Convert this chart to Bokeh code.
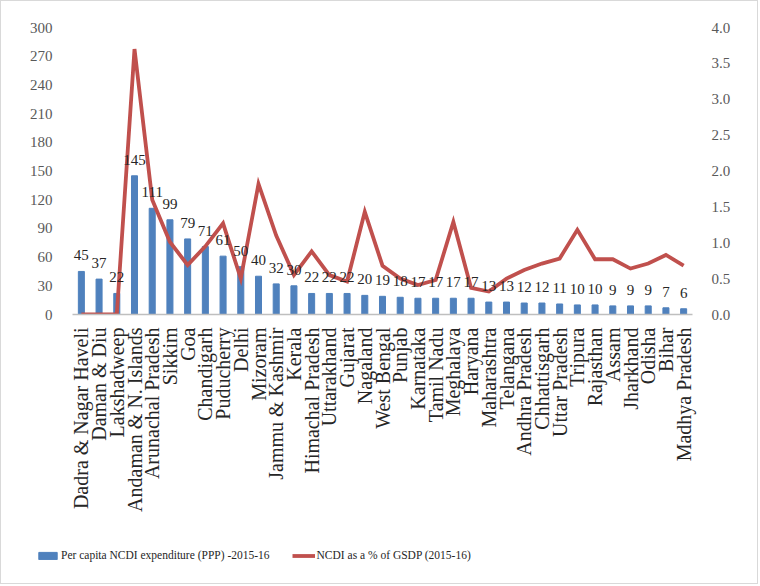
from bokeh.plotting import figure
from bokeh.layouts import column
from bokeh.models import (Range1d, LinearAxis, FixedTicker, ColumnDataSource,
                          Legend, LegendItem, NumeralTickFormatter)
from bokeh.embed import file_html
from bokeh.resources import INLINE
from bokeh.core.properties import value

states = ["Dadra & Nagar Haveli", "Daman & Diu", "Lakshadweep", "Andaman & N. Islands",
          "Arunachal Pradesh", "Sikkim", "Goa", "Chandigarh", "Puducherry", "Delhi",
          "Mizoram", "Jammu & Kashmir", "Kerala", "Himachal Pradesh", "Uttarakhand",
          "Gujarat", "Nagaland", "West Bengal", "Punjab", "Karnataka", "Tamil Nadu",
          "Meghalaya", "Haryana", "Maharashtra", "Telangana", "Andhra Pradesh",
          "Chhattisgarh", "Uttar Pradesh", "Tripura", "Rajasthan", "Assam", "Jharkhand",
          "Odisha", "Bihar", "Madhya Pradesh"]
per_capita = [45, 37, 22, 145, 111, 99, 79, 71, 61, 50, 40, 32, 30, 22, 22, 22, 20, 19,
              18, 17, 17, 17, 17, 13, 13, 12, 12, 11, 10, 10, 9, 9, 9, 7, 6]
gsdp_pct = [0.0, 0.0, 0.0, 3.7, 1.6, 1.01, 0.69, 0.95, 1.27, 0.5, 1.82, 1.1, 0.55, 0.88,
            0.55, 0.46, 1.43, 0.68, 0.5, 0.41, 0.48, 1.29, 0.37, 0.32, 0.5, 0.62, 0.71,
            0.78, 1.18, 0.77, 0.77, 0.64, 0.71, 0.83, 0.68]
left_ticks = [0, 30, 60, 90, 120, 150, 180, 210, 240, 270, 300]
right_ticks = [0.0, 0.5, 1.0, 1.5, 2.0, 2.5, 3.0, 3.5, 4.0]
series_names = ["Per capita NCDI expenditure (PPP) -2015-16", "NCDI as a % of GSDP (2015-16)"]

FONT = "Liberation Serif"
BLUE = "#4F81BD"
RED = "#C0504D"
NAN = float("nan")

src = ColumnDataSource(dict(state=states, pc=per_capita, lbl=[str(v) for v in per_capita],
                            pct=gsdp_pct))

p = figure(x_range=states, y_range=Range1d(0, 300), width=756, height=516,
           output_backend="svg", toolbar_location=None,
           min_border_left=71, min_border_right=65, min_border_top=26,
           min_border_bottom=203)
p.frame_align = False
p.outline_line_color = None
p.xgrid.visible = False
p.ygrid.visible = False
p.extra_y_ranges = {"pct": Range1d(0, 4)}

bars = p.vbar(x="state", top="pc", width=0.34, source=src, color=BLUE)
line = p.line(x="state", y="pct", source=src, y_range_name="pct",
              line_color=RED, line_width=3.8, line_join="miter")
p.text(x="state", y="pc", text="lbl", source=src, text_align="center",
       text_baseline="bottom", y_offset=-11, text_font=value(FONT),
       text_font_size="15px", text_color="#262626")

ya = p.yaxis[0]
ya.ticker = FixedTicker(ticks=left_ticks)
ya.axis_line_color = None
ya.major_tick_line_color = None
ya.minor_tick_line_color = None
ya.major_label_text_font = FONT
ya.major_label_text_font_size = "15px"
ya.major_label_text_color = "#595959"
ya.major_label_standoff = 14

ra = LinearAxis(y_range_name="pct", ticker=FixedTicker(ticks=right_ticks),
                formatter=NumeralTickFormatter(format="0.0"))
ra.axis_line_color = None
ra.major_tick_line_color = None
ra.minor_tick_line_color = None
ra.major_label_text_font = FONT
ra.major_label_text_font_size = "15px"
ra.major_label_text_color = "#595959"
ra.major_label_standoff = 13
p.add_layout(ra, "right")

xa = p.xaxis[0]
xa.axis_line_color = "#BFBFBF"
xa.axis_line_width = 1.5
xa.major_tick_line_color = None
xa.minor_tick_line_color = None
xa.major_label_orientation = 3.14159265 / 2
xa.major_label_text_font = FONT
xa.major_label_text_font_size = "20px"
xa.major_label_text_color = "#262626"
xa.major_label_standoff = 7

# legend strip below the chart
pl = figure(width=756, height=66, output_backend="svg", toolbar_location=None,
            x_range=Range1d(0, 1), y_range=Range1d(0, 1), min_border=0,
            min_border_left=0, min_border_right=0, min_border_top=0, min_border_bottom=0,
            x_axis_type=None, y_axis_type=None)
pl.frame_align = False
pl.outline_line_color = None
pl.grid.visible = False
lb = pl.vbar(x=[NAN], top=[NAN], width=0.3, color=BLUE)
ll = pl.line(x=[NAN, NAN], y=[NAN, NAN], line_color=RED, line_width=3.8)
legend = Legend(items=[LegendItem(label=series_names[0], renderers=[lb]),
                       LegendItem(label=series_names[1], renderers=[ll])],
                orientation="horizontal", location=(35, 22))
legend.border_line_color = None
legend.background_fill_alpha = 0
legend.label_text_font = FONT
legend.label_text_font_size = "11.5px"
legend.label_text_color = "#262626"
legend.glyph_width = 23
legend.glyph_height = 9
legend.label_standoff = 2
legend.spacing = 22
legend.padding = 4
legend.margin = 0
pl.add_layout(legend, "center")

layout = column(p, pl, spacing=0, styles={"border": "1px solid #D9D9D9"})

open("out.html", "w").write(file_html(layout, INLINE))
